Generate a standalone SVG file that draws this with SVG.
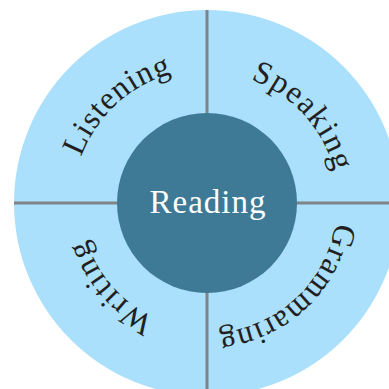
<svg xmlns="http://www.w3.org/2000/svg" width="389" height="389" viewBox="0 0 389 389">
<style>
.l{stroke:#808488;stroke-width:3;fill:none}
text{font-family:"Liberation Serif","DejaVu Serif",serif;fill:#231f20;font-size:32px}
</style>
<defs>
<path id="a1" d="M 207 203 m -134 0 a 134 134 0 0 1 134 -134"/>
<path id="a2" d="M 207 203 m 0 -131 a 131 131 0 0 1 131 131"/>
<path id="a3" d="M 207 203 m 130 0 a 130 130 0 0 1 -130 130"/>
<path id="a4" d="M 207 203 m 0 126 a 126 126 0 0 1 -126 -126"/>
</defs>
<rect width="389" height="389" fill="#fff"/>
<g id="ring"><circle cx="207" cy="203" r="193" fill="#aae0fc"/></g>
<g id="connectors">
<line class="l" x1="207" y1="10" x2="207" y2="114"/>
<line class="l" x1="14" y1="203" x2="118" y2="203"/>
<line class="l" x1="296" y1="203" x2="389" y2="203"/>
<line class="l" x1="207" y1="292" x2="207" y2="389"/>
</g>
<g id="listening" transform="rotate(2.5 207 203)"><text letter-spacing="0.8"><textPath href="#a1" startOffset="50%" text-anchor="middle">Listening</textPath></text></g>
<g id="speaking" transform="rotate(3 207 203)"><text letter-spacing="1.4"><textPath href="#a2" startOffset="50%" text-anchor="middle">Speaking</textPath></text></g>
<g id="grammaring" transform="rotate(2 207 203)"><text letter-spacing="1"><textPath href="#a3" startOffset="50%" text-anchor="middle">Grammaring</textPath></text></g>
<g id="writing" transform="rotate(4 207 203)"><text letter-spacing="1.4"><textPath href="#a4" startOffset="50%" text-anchor="middle">Writing</textPath></text></g>
<g id="reading"><circle cx="207" cy="203" r="90" fill="#3e7a96"/>
<text x="208" y="213" text-anchor="middle" style="fill:#fff;font-size:33px" letter-spacing="1">Reading</text></g>
</svg>
